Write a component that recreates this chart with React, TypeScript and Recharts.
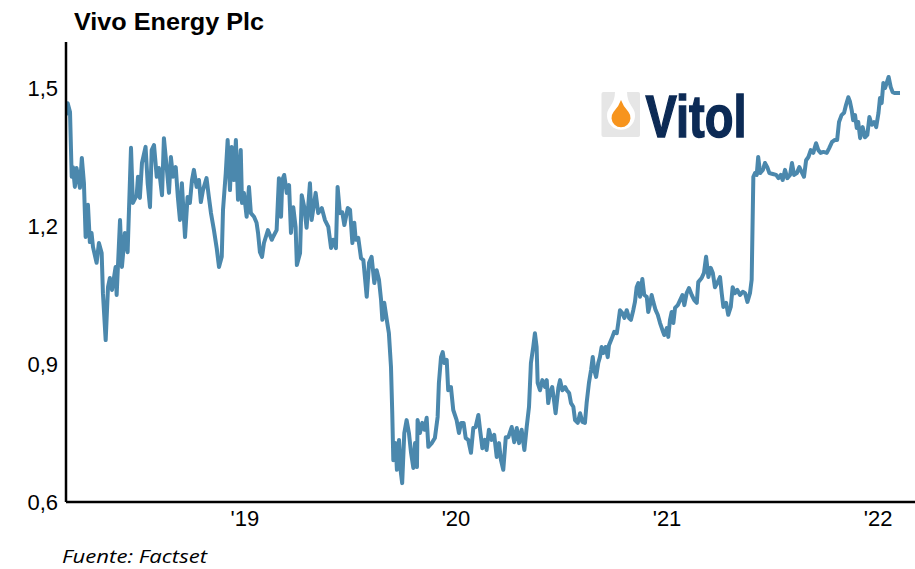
import { LineChart, Line, XAxis, YAxis } from "recharts";

// fecha en años decimales, precio en libras
const dates = [
  2018.152, 2018.16, 2018.171, 2018.179, 2018.185, 2018.194, 2018.202, 2018.218, 2018.227, 2018.237,
  2018.245, 2018.256, 2018.265, 2018.273, 2018.28, 2018.297, 2018.308, 2018.321, 2018.327, 2018.34,
  2018.351, 2018.36, 2018.37, 2018.379, 2018.387, 2018.392, 2018.408, 2018.417, 2018.431, 2018.444,
  2018.46, 2018.469, 2018.487, 2018.493, 2018.502, 2018.512, 2018.529, 2018.539, 2018.55, 2018.558,
  2018.569, 2018.582, 2018.592, 2018.607, 2018.616, 2018.629, 2018.64, 2018.649, 2018.659, 2018.672,
  2018.682, 2018.692, 2018.701, 2018.716, 2018.728, 2018.739, 2018.749, 2018.758, 2018.771, 2018.782,
  2018.791, 2018.801, 2018.818, 2018.829, 2018.839, 2018.853, 2018.866, 2018.877, 2018.89, 2018.896,
  2018.909, 2018.918, 2018.929, 2018.937, 2018.948, 2018.957, 2018.967, 2018.98, 2018.986, 2018.995,
  2019.008, 2019.019, 2019.028, 2019.043, 2019.055, 2019.062, 2019.071, 2019.081, 2019.09, 2019.109,
  2019.127, 2019.133, 2019.15, 2019.161, 2019.171, 2019.177, 2019.186, 2019.198, 2019.209, 2019.218,
  2019.229, 2019.24, 2019.246, 2019.261, 2019.269, 2019.281, 2019.292, 2019.308, 2019.316, 2019.335,
  2019.347, 2019.364, 2019.379, 2019.395, 2019.408, 2019.418, 2019.431, 2019.439, 2019.45, 2019.461,
  2019.471, 2019.487, 2019.498, 2019.509, 2019.518, 2019.525, 2019.537, 2019.55, 2019.561, 2019.577,
  2019.588, 2019.6, 2019.613, 2019.624, 2019.635, 2019.645, 2019.651, 2019.66, 2019.672, 2019.682,
  2019.692, 2019.698, 2019.703, 2019.714, 2019.72, 2019.73, 2019.739, 2019.745, 2019.755, 2019.766,
  2019.777, 2019.787, 2019.798, 2019.806, 2019.815, 2019.818, 2019.829, 2019.84, 2019.85, 2019.861,
  2019.869, 2019.885, 2019.9, 2019.913, 2019.919, 2019.929, 2019.937, 2019.945, 2019.956, 2019.963,
  2019.976, 2019.987, 2020.003, 2020.014, 2020.024, 2020.036, 2020.046, 2020.058, 2020.071, 2020.082,
  2020.093, 2020.106, 2020.114, 2020.125, 2020.137, 2020.145, 2020.156, 2020.169, 2020.181, 2020.193,
  2020.204, 2020.213, 2020.224, 2020.236, 2020.248, 2020.264, 2020.276, 2020.288, 2020.299, 2020.311,
  2020.324, 2020.335, 2020.346, 2020.355, 2020.366, 2020.374, 2020.382, 2020.387, 2020.398, 2020.409,
  2020.422, 2020.43, 2020.437, 2020.445, 2020.456, 2020.466, 2020.472, 2020.485, 2020.493, 2020.504,
  2020.517, 2020.525, 2020.536, 2020.545, 2020.556, 2020.564, 2020.577, 2020.588, 2020.599, 2020.611,
  2020.619, 2020.63, 2020.64, 2020.648, 2020.655, 2020.664, 2020.674, 2020.682, 2020.69, 2020.698,
  2020.709, 2020.719, 2020.725, 2020.735, 2020.741, 2020.75, 2020.762, 2020.769, 2020.777, 2020.788,
  2020.798, 2020.809, 2020.82, 2020.829, 2020.84, 2020.848, 2020.856, 2020.864, 2020.872, 2020.883,
  2020.892, 2020.904, 2020.911, 2020.919, 2020.927, 2020.935, 2020.946, 2020.956, 2020.967, 2020.978,
  2020.987, 2020.999, 2021.006, 2021.014, 2021.022, 2021.03, 2021.038, 2021.051, 2021.062, 2021.073,
  2021.082, 2021.093, 2021.104, 2021.117, 2021.129, 2021.141, 2021.148, 2021.164, 2021.175, 2021.185,
  2021.196, 2021.207, 2021.217, 2021.227, 2021.238, 2021.251, 2021.259, 2021.267, 2021.28, 2021.29,
  2021.302, 2021.311, 2021.322, 2021.333, 2021.346, 2021.359, 2021.37, 2021.381, 2021.393, 2021.401,
  2021.409, 2021.417, 2021.425, 2021.432, 2021.441, 2021.454, 2021.464, 2021.475, 2021.485, 2021.501,
  2021.517, 2021.528, 2021.539, 2021.548, 2021.559, 2021.57, 2021.583, 2021.592, 2021.602, 2021.615,
  2021.627, 2021.638, 2021.649, 2021.659, 2021.67, 2021.681, 2021.693, 2021.706, 2021.717, 2021.728,
  2021.741, 2021.757, 2021.769, 2021.782, 2021.795, 2021.806, 2021.815, 2021.827, 2021.839, 2021.848,
  2021.859, 2021.867, 2021.875, 2021.882, 2021.891, 2021.899, 2021.906, 2021.915, 2021.927, 2021.938,
  2021.949, 2021.959, 2021.97, 2021.981, 2021.991, 2022.002, 2022.009, 2022.017, 2022.025, 2022.033,
  2022.041, 2022.05, 2022.06, 2022.069, 2022.08, 2022.104,
];

const prices = [
  1.441, 1.467, 1.448, 1.307, 1.328, 1.285, 1.326, 1.283, 1.348, 1.293,
  1.176, 1.246, 1.165, 1.185, 1.154, 1.12, 1.163, 1.141, 1.054, 0.952,
  1.067, 1.087, 1.061, 1.087, 1.111, 1.05, 1.213, 1.111, 1.185, 1.143,
  1.37, 1.25, 1.267, 1.307, 1.261, 1.337, 1.372, 1.293, 1.241, 1.365,
  1.376, 1.307, 1.326, 1.267, 1.391, 1.328, 1.272, 1.35, 1.307, 1.328,
  1.263, 1.213, 1.293, 1.176, 1.263, 1.25, 1.3, 1.322, 1.285, 1.3,
  1.252, 1.278, 1.304, 1.263, 1.228, 1.191, 1.152, 1.111, 1.133, 1.235,
  1.315, 1.387, 1.278, 1.372, 1.3, 1.387, 1.257, 1.365, 1.25, 1.272,
  1.22, 1.285, 1.228, 1.22, 1.207, 1.185, 1.143, 1.133, 1.163, 1.191,
  1.17, 1.176, 1.191, 1.304, 1.22, 1.3, 1.311, 1.272, 1.289, 1.185,
  1.241, 1.198, 1.115, 1.141, 1.267, 1.241, 1.196, 1.293, 1.213, 1.272,
  1.228, 1.239, 1.213, 1.198, 1.152, 1.17, 1.152, 1.285, 1.228, 1.23,
  1.202, 1.239, 1.235, 1.163, 1.207, 1.17, 1.174, 1.13, 1.126, 1.046,
  1.12, 1.133, 1.076, 1.104, 1.083, 1.039, 0.996, 1.033, 0.996, 0.967,
  0.893, 0.793, 0.691, 0.728, 0.67, 0.735, 0.663, 0.641, 0.75, 0.778,
  0.75, 0.707, 0.674, 0.728, 0.676, 0.778, 0.75, 0.772, 0.757, 0.783,
  0.72, 0.728, 0.739, 0.785, 0.859, 0.915, 0.926, 0.902, 0.909, 0.843,
  0.85, 0.8, 0.778, 0.75, 0.772, 0.772, 0.739, 0.735, 0.707, 0.761,
  0.763, 0.789, 0.757, 0.717, 0.735, 0.713, 0.757, 0.735, 0.746, 0.698,
  0.728, 0.691, 0.67, 0.741, 0.741, 0.763, 0.73, 0.761, 0.728, 0.757,
  0.713, 0.763, 0.807, 0.902, 0.937, 0.967, 0.937, 0.859, 0.843, 0.865,
  0.85, 0.865, 0.815, 0.837, 0.85, 0.815, 0.793, 0.848, 0.865, 0.843,
  0.85, 0.843, 0.837, 0.815, 0.807, 0.778, 0.772, 0.793, 0.774, 0.772,
  0.815, 0.859, 0.887, 0.915, 0.887, 0.872, 0.902, 0.915, 0.937, 0.924,
  0.937, 0.915, 0.941, 0.952, 0.959, 0.97, 0.967, 0.989, 1.017, 1.011,
  1.0, 1.017, 1.0, 0.996, 1.017, 1.035, 1.067, 1.076, 1.046, 1.085,
  1.05, 1.046, 1.013, 1.028, 1.05, 1.035, 1.017, 1.007, 0.989, 0.974,
  0.963, 0.978, 0.959, 0.996, 1.013, 0.989, 1.022, 1.028, 1.039, 1.05,
  1.028, 1.054, 1.065, 1.05, 1.039, 1.033, 1.078, 1.087, 1.098, 1.133,
  1.089, 1.109, 1.098, 1.067, 1.076, 1.089, 1.054, 1.024, 1.033, 1.007,
  1.024, 1.067, 1.054, 1.061, 1.05, 1.057, 1.054, 1.035, 1.054, 1.083,
  1.307, 1.315, 1.311, 1.35, 1.315, 1.322, 1.337, 1.328, 1.315, 1.313,
  1.311, 1.304, 1.311, 1.3, 1.322, 1.304, 1.311, 1.337, 1.311, 1.315,
  1.328, 1.317, 1.307, 1.343, 1.35, 1.365, 1.359, 1.38, 1.365, 1.359,
  1.361, 1.359, 1.37, 1.383, 1.387, 1.387, 1.426, 1.441, 1.446, 1.463,
  1.48, 1.47, 1.452, 1.43, 1.441, 1.413, 1.426, 1.391, 1.415, 1.393,
  1.398, 1.437, 1.42, 1.426, 1.415, 1.446, 1.478, 1.467, 1.511, 1.5,
  1.511, 1.524, 1.502, 1.491, 1.489, 1.489,
];

const yearTicks = [2019, 2020, 2021, 2022];
const priceTicks = [0.6, 0.9, 1.2, 1.5];

const data = dates.map((t, i) => ({ t, price: prices[i] }));

const axisFont = { fontFamily: "Arial, 'Liberation Sans', sans-serif", fontSize: 22, fill: "#000" };

export default function App() {
  return (
    <div style={{ position: "relative", width: 915, height: 569, background: "#fff", overflow: "hidden" }}>
      <style>{"body{margin:0}"}</style>
      <LineChart
        width={915}
        height={569}
        data={data}
        margin={{ top: 42, right: 0, bottom: 27, left: 0 }}
      >
        <XAxis
          dataKey="t"
          type="number"
          domain={[2018.152, 2022.175]}
          ticks={yearTicks}
          tickFormatter={(v: number) => "'" + String(v).slice(2)}
          tickLine={false}
          axisLine={{ stroke: "#000", strokeWidth: 2.5 }}
          tick={axisFont}
          height={40}
          allowDataOverflow
        />
        <YAxis
          type="number"
          domain={[0.6, 1.6]}
          ticks={priceTicks}
          tickFormatter={(v: number) => v.toFixed(1).replace(".", ",")}
          tickLine={false}
          axisLine={{ stroke: "#000", strokeWidth: 2.5 }}
          tick={axisFont}
          width={66}
          allowDataOverflow
        />
        <Line
          type="linear"
          dataKey="price"
          stroke="#4b88ad"
          strokeWidth={4}
          strokeLinejoin="round"
          dot={false}
          isAnimationActive={false}
        />
      </LineChart>
      <svg
        width={915}
        height={569}
        style={{ position: "absolute", left: 0, top: 0, pointerEvents: "none" }}
      >
        <text
          x={74}
          y={29.5}
          fontFamily="Arial, 'Liberation Sans', sans-serif"
          fontWeight="bold"
          fontSize={23.5}
          fill="#000"
          textLength={190}
          lengthAdjust="spacingAndGlyphs"
        >
          Vivo Energy Plc
        </text>
        <rect x={601.5} y={92} width={38.5} height={45} rx={2} fill="#e6e6e6" />
        <path d="M615 92 L627 92 Q627 100 632 107 A14 14 0 1 1 610 107 Q615 100 615 92 Z" fill="#fff" />
        <path d="M621 100 Q623 106 628.5 112 A9.5 9.5 0 1 1 613.5 112 Q619 106 621 100 Z" fill="#f7941d" />
        <text
          x={645.5}
          y={136.5}
          fontFamily="Arial, 'Liberation Sans', sans-serif"
          fontWeight="bold"
          fontSize={60}
          fill="#0c2a55"
          stroke="#0c2a55"
          strokeWidth={1.5}
          textLength={101}
          lengthAdjust="spacingAndGlyphs"
        >
          Vitol
        </text>
        <text
          x={62}
          y={563}
          fontFamily="'Open Sans', sans-serif"
          fontStyle="italic"
          fontSize={18}
          fill="#000"
          textLength={145}
          lengthAdjust="spacingAndGlyphs"
        >
          Fuente: Factset
        </text>
      </svg>
    </div>
  );
}
